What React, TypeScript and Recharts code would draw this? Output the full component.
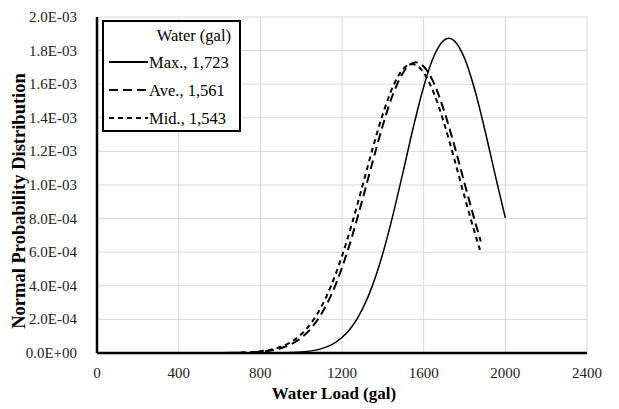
import React from "react";
import { LineChart, Line, XAxis, YAxis, CartesianGrid } from "recharts";

// water load (gal) and normal pdf values
const maxLoad = [0, 200, 400, 600, 800, 900, 1000, 1050, 1100, 1150, 1200, 1250, 1300, 1350, 1400, 1450, 1500, 1550, 1600, 1650, 1700, 1723, 1750, 1800, 1850, 1900, 1950, 2000];
const maxPdf = [0, 0, 0, 0, 0.0000002, 0.000001, 0.000006, 0.0000127, 0.000026, 0.00005, 0.000092, 0.000159, 0.000261, 0.000404, 0.000593, 0.000824, 0.001083, 0.001347, 0.001585, 0.001766, 0.001862, 0.001873, 0.001858, 0.001755, 0.001568, 0.001326, 0.001061, 0.000804];

const aveLoad = [0, 200, 400, 600, 700, 800, 850, 900, 950, 1000, 1050, 1100, 1150, 1200, 1250, 1300, 1350, 1400, 1450, 1500, 1550, 1561, 1600, 1650, 1700, 1750, 1800, 1850, 1880];
const avePdf = [0, 0, 0, 0.0000003, 0.0000016, 0.0000075, 0.0000149, 0.0000285, 0.0000517, 0.0000898, 0.000149, 0.000235, 0.000353, 0.000508, 0.000697, 0.000912, 0.001138, 0.001356, 0.001541, 0.00167, 0.001728, 0.00173, 0.001705, 0.001606, 0.001442, 0.001236, 0.001011, 0.000789, 0.000664];

const midLoad = [0, 200, 400, 600, 700, 800, 850, 900, 950, 1000, 1050, 1100, 1150, 1200, 1250, 1300, 1350, 1400, 1450, 1500, 1543, 1550, 1600, 1650, 1700, 1750, 1800, 1850, 1876];
const midPdf = [0, 0, 0, 0.0000004, 0.0000023, 0.0000102, 0.0000199, 0.0000369, 0.0000655, 0.000111, 0.00018, 0.000278, 0.00041, 0.000577, 0.000775, 0.000994, 0.001217, 0.001422, 0.001587, 0.001691, 0.00172, 0.001719, 0.001669, 0.001547, 0.001368, 0.001155, 0.000931, 0.000717, 0.000614];

const xTicks = [0, 400, 800, 1200, 1600, 2000, 2400];
const yTicks = [0, 0.0002, 0.0004, 0.0006, 0.0008, 0.001, 0.0012, 0.0014, 0.0016, 0.0018, 0.002];

const legendTitle = "Water (gal)";
const seriesNames = ["Max., 1,723", "Ave., 1,561", "Mid., 1,543"];
const dashes = ["", "9 5", "5 4"];

const toPoints = (xs: number[], ys: number[]) => xs.map((x, i) => ({ x, y: ys[i] }));

const series = [
  toPoints(maxLoad, maxPdf),
  toPoints(aveLoad, avePdf),
  toPoints(midLoad, midPdf),
];

const font = "Liberation Serif";

function sci(v: number) {
  if (v === 0) return "0.0E+00";
  const exp = Math.floor(Math.log10(v) + 1e-9);
  const mant = v / Math.pow(10, exp);
  const sign = exp < 0 ? "-" : "+";
  return `${mant.toFixed(1)}E${sign}${String(Math.abs(exp)).padStart(2, "0")}`;
}

function XTick({ x, y, payload }: any) {
  return (
    <text x={x} y={y + 11} textAnchor="middle" fontFamily={font} fontSize={15} fill="#222">
      {payload.value}
    </text>
  );
}

function YTick({ x, y, payload }: any) {
  return (
    <text x={x} y={y + 5} textAnchor="end" fontFamily={font} fontSize={15} fill="#222">
      {sci(payload.value)}
    </text>
  );
}

function LegendBox() {
  return (
    <div
      style={{
        position: "absolute",
        left: 102,
        top: 20,
        width: 135,
        height: 108,
        border: "2px solid #000",
        background: "#fff",
      }}
    >
      <svg width={135} height={108} style={{ display: "block" }}>
        <text x={127} y={19} textAnchor="end" fontSize={16.5} fontFamily={font} fill="#000">
          {legendTitle}
        </text>
        {seriesNames.map((name, i) => (
          <g key={name}>
            <line
              x1={5}
              x2={44}
              y1={40 + i * 28}
              y2={40 + i * 28}
              stroke="#000"
              strokeWidth={2}
              strokeDasharray={dashes[i] || undefined}
            />
            <text x={45} y={45.5 + i * 28} fontSize={16.5} fontFamily={font} fill="#000">
              {name}
            </text>
          </g>
        ))}
      </svg>
    </div>
  );
}

export default function App() {
  return (
    <div style={{ position: "relative", width: 619, height: 409, background: "#fff" }}>
      <style>{`body{margin:0}`}</style>
      <LineChart width={619} height={409} margin={{ top: 17, right: 32, bottom: 26, left: 8 }}>
        <CartesianGrid stroke="#d9d9d9" strokeWidth={1} />
        <XAxis
          type="number"
          dataKey="x"
          domain={[0, 2400]}
          ticks={xTicks}
          tickLine={false}
          tickMargin={8}
          axisLine={{ stroke: "#000", strokeWidth: 2.5 }}
          height={30}
          tick={<XTick />}
          allowDataOverflow
        />
        <XAxis xAxisId="top" orientation="top" type="number" domain={[0, 2400]} tick={false} tickLine={false} height={0} axisLine={{ stroke: "#404040", strokeWidth: 2 }} />
        <YAxis
          type="number"
          domain={[0, 0.002]}
          ticks={yTicks}
          tickLine={false}
          tickMargin={14}
          width={89}
          axisLine={{ stroke: "#000", strokeWidth: 2.5 }}
          tick={<YTick />}
        />
        <YAxis yAxisId="right" orientation="right" domain={[0, 0.002]} tick={false} tickLine={false} width={0} axisLine={{ stroke: "#404040", strokeWidth: 2 }} />
        {series.map((data, i) => (
          <Line
            key={seriesNames[i]}
            data={data}
            dataKey="y"
            type="monotone"
            stroke="#000"
            strokeWidth={i === 0 ? 1.5 : 2}
            strokeDasharray={dashes[i] || undefined}
            dot={false}
            activeDot={false}
            isAnimationActive={false}
          />
        ))}
        <text x={334} y={399} textAnchor="middle" fontFamily={font} fontSize={17} fontWeight="bold" fill="#000">
          Water Load (gal)
        </text>
        <text
          x={0}
          y={0}
          transform="translate(25 201) rotate(-90)"
          textAnchor="middle"
          fontFamily={font}
          fontSize={18.5}
          fontWeight="bold"
          fill="#000"
        >
          Normal Probability Distribution
        </text>
      </LineChart>
      <LegendBox />
    </div>
  );
}
